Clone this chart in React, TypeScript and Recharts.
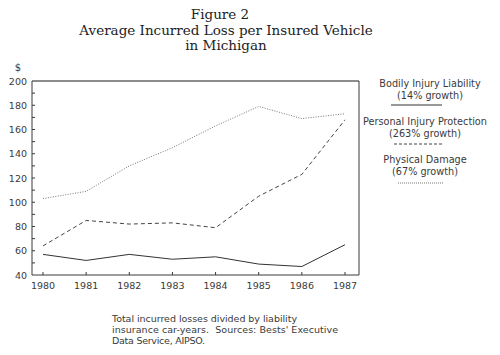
import React from 'react';
import { LineChart, Line, XAxis, YAxis, ReferenceLine } from 'recharts';

const years = ['1980', '1981', '1982', '1983', '1984', '1985', '1986', '1987'];
const bodilyInjury = [57, 52, 57, 53, 55, 49, 47, 65];
const personalInjury = [64, 85, 82, 83, 79, 105, 123, 168];
const physicalDamage = [103, 109, 130, 145, 163, 179, 169, 173];
const yTicks = [40, 50, 60, 70, 80, 90, 100, 110, 120, 130, 140, 150, 160, 170, 180, 190, 200];

const data = years.map((y, i) => ({
  year: y,
  bi: bodilyInjury[i],
  pip: personalInjury[i],
  pd: physicalDamage[i],
}));

const SANS = 'DejaVu Sans, sans-serif';
const SERIF = 'DejaVu Serif, serif';
const INK = '#3a3a3a';

const YTick = (props: any) => {
  const { x, y, payload } = props;
  const v = payload.value;
  const major = v % 20 === 0;
  return (
    <g>
      {v !== 40 && v !== 200 && <line x1={x} x2={x + 3} y1={y} y2={y} stroke={INK} strokeWidth={1} />}
      {major && (
        <text x={x - 5} y={y} dy={3.5} textAnchor="end" fontSize={9.5} fontFamily={SANS} fill={INK}>
          {v}
        </text>
      )}
    </g>
  );
};

const XTick = (props: any) => {
  const { x, y, payload } = props;
  return (
    <g>
      <line x1={x} x2={x} y1={y} y2={y - 3} stroke={INK} strokeWidth={1} />
      <text x={x} y={y + 14} textAnchor="middle" fontSize={9.5} fontFamily={SANS} fill={INK}>
        {payload.value}
      </text>
    </g>
  );
};

export default function App() {
  return (
    <div style={{ position: 'absolute', left: 0, top: 0, width: 500, height: 355, background: '#fff' }}>
      <LineChart
        width={500}
        height={355}
        data={data}
        margin={{ top: 80, right: 140, bottom: 60, left: 31 }}
      >
        <XAxis
          dataKey="year"
          xAxisId="b"
          height={20}
          padding={{ left: 11, right: 14 }}
          axisLine={{ stroke: INK }}
          tickLine={false}
          tickSize={0}
          tickMargin={0}
          tick={<XTick />}
          interval={0}
        />
        <XAxis dataKey="year" xAxisId="t" orientation="top" height={1} tick={false} tickLine={false} axisLine={{ stroke: '#666' }} />
        <YAxis
          yAxisId="l"
          width={1}
          domain={[40, 200]}
          ticks={yTicks}
          interval={0}
          axisLine={{ stroke: INK }}
          tickLine={false}
          tickSize={0}
          tickMargin={0}
          tick={<YTick />}
        />
        <YAxis yAxisId="r" orientation="right" width={1} domain={[40, 200]} tick={false} tickLine={false} axisLine={{ stroke: INK }} />
        <ReferenceLine xAxisId="b" yAxisId="l" y={200} stroke="#666" strokeWidth={1} />
        <Line xAxisId="b" yAxisId="l" type="linear" dataKey="bi" stroke="#333" strokeWidth={1} dot={false} isAnimationActive={false} />
        <Line xAxisId="b" yAxisId="l" type="linear" dataKey="pip" stroke="#444" strokeWidth={1} strokeDasharray="4 3" dot={false} isAnimationActive={false} />
        <Line xAxisId="b" yAxisId="l" type="linear" dataKey="pd" stroke="#777" strokeWidth={1} strokeDasharray="1 1.5" dot={false} isAnimationActive={false} />
      </LineChart>
      <svg width={500} height={355} style={{ position: 'absolute', left: 0, top: 0, pointerEvents: 'none' }}>
        <g fontFamily={SERIF} fontSize={13.5} fill="#222" textAnchor="middle">
          <text x={220} y={19}>Figure 2</text>
          <text x={226} y={35}>Average Incurred Loss per Insured Vehicle</text>
          <text x={226} y={50}>in Michigan</text>
        </g>
        <text x={18} y={71} textAnchor="middle" fontSize={10} fontFamily={SANS} fill={INK}>$</text>
        <g fontFamily={SANS} fontSize={9.7} fill={INK} textAnchor="middle">
          <text x={430} y={87}>Bodily Injury Liability</text>
          <text x={430} y={99}>(14% growth)</text>
          <line x1={391} x2={442} y1={105} y2={105} stroke="#333" strokeWidth={1} />
          <text x={425} y={125}>Personal Injury Protection</text>
          <text x={425} y={137}>(263% growth)</text>
          <line x1={394} x2={444} y1={144} y2={144} stroke="#444" strokeWidth={1} strokeDasharray="3 2" />
          <text x={425} y={163}>Physical Damage</text>
          <text x={425} y={175}>(67% growth)</text>
          <line x1={398} x2={444} y1={183} y2={183} stroke="#777" strokeWidth={1} strokeDasharray="1 1" />
        </g>
        <g fontFamily={SANS} fontSize={9.5} fill={INK}>
          <text x={112} y={322} textLength={185} lengthAdjust="spacing">Total incurred losses divided by liability</text>
          <text x={112} y={333} textLength={226} lengthAdjust="spacing" style={{ whiteSpace: 'pre' }}>insurance car-years.  Sources: Bests' Executive</text>
          <text x={112} y={344} textLength={93} lengthAdjust="spacing">Data Service, AIPSO.</text>
        </g>
      </svg>
    </div>
  );
}
